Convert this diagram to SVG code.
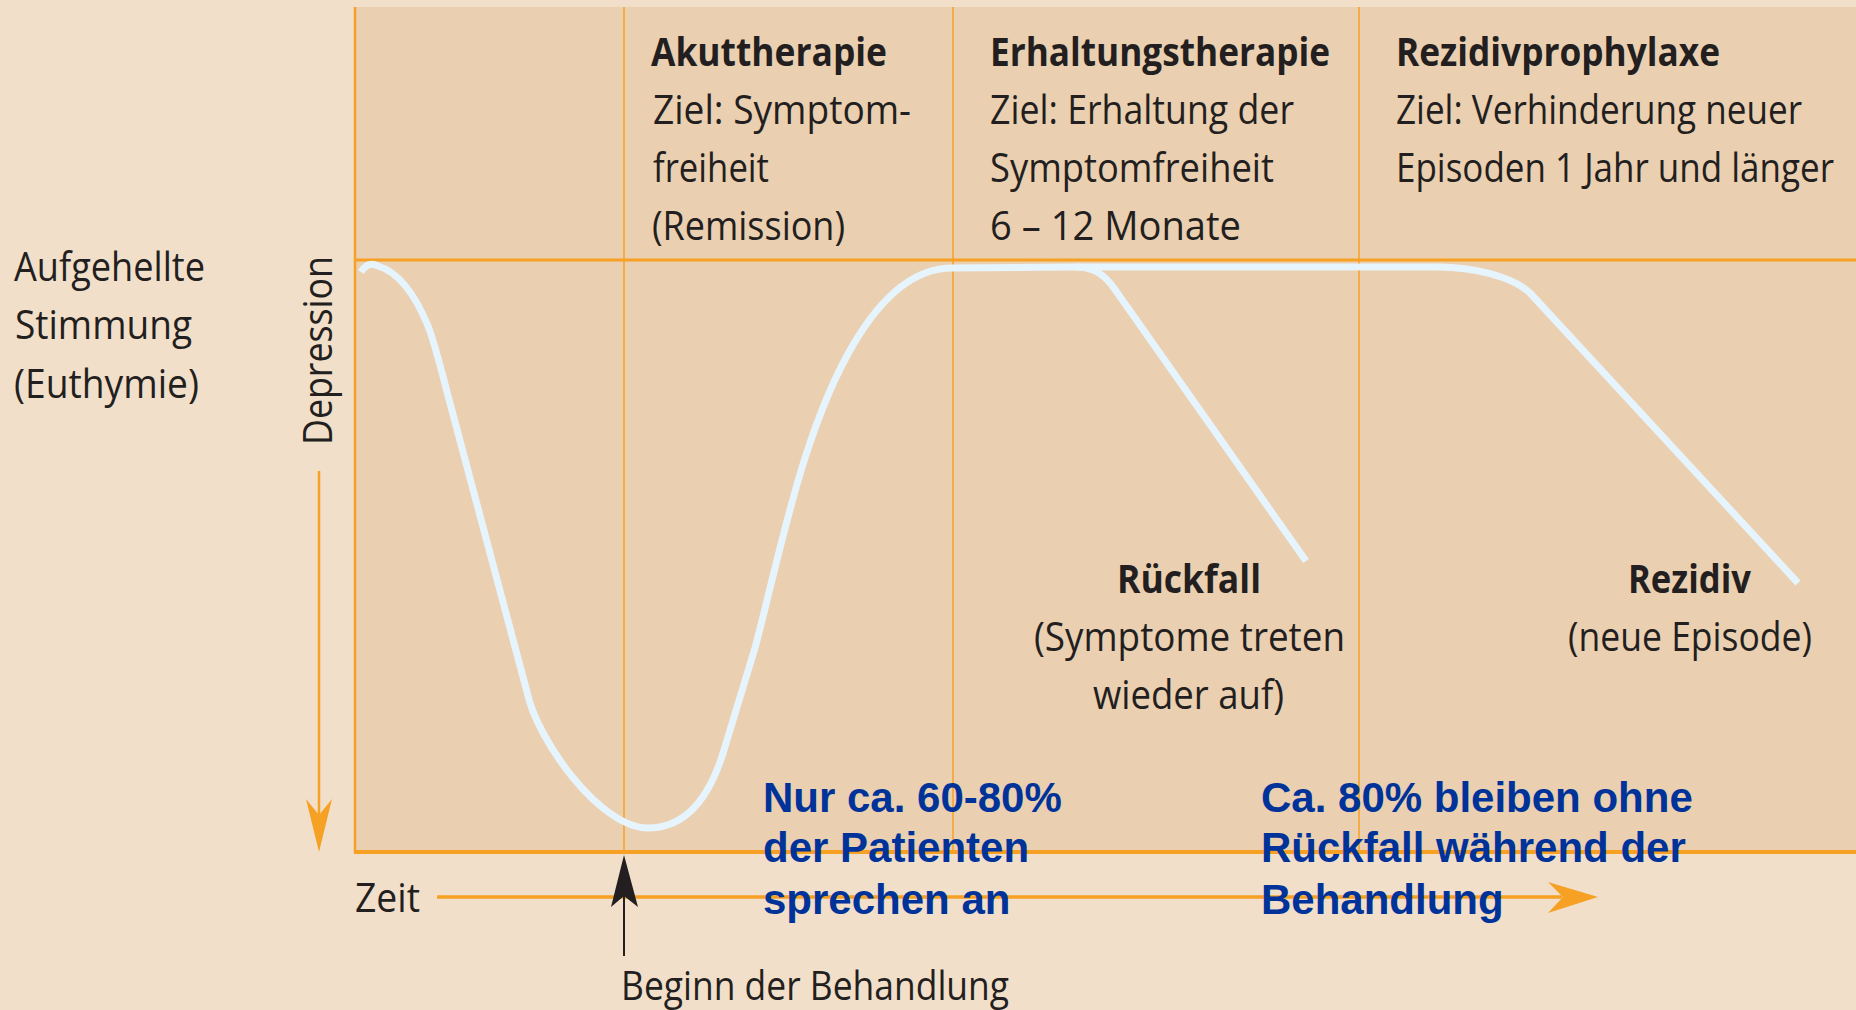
<svg xmlns="http://www.w3.org/2000/svg" width="1856" height="1010" viewBox="0 0 1856 1010">
<defs>
<style>
.t{font-family:"Open Sans","Noto Sans","DejaVu Sans",sans-serif;font-size:40px;fill:#231f20;}
.b{font-weight:700;}
.blue{font-family:"Liberation Sans",Arial,sans-serif;font-weight:700;font-size:42px;fill:#003399;}
.grid{stroke:#f6a024;fill:none;}
.curve{stroke:#e6f4fd;stroke-width:7;fill:none;stroke-linejoin:round;}
</style>
</defs>
<rect x="0" y="0" width="1856" height="1010" fill="#f2dfca"/>
<g id="chart">
<rect x="355" y="7" width="1501" height="845" fill="#eacfb1"/>
<line class="grid" x1="355" y1="7" x2="355" y2="853" stroke-width="2.5"/>
<line class="grid" x1="624" y1="7" x2="624" y2="852" stroke-width="1.5"/>
<line class="grid" x1="953" y1="7" x2="953" y2="852" stroke-width="1.5"/>
<line class="grid" x1="1359" y1="7" x2="1359" y2="852" stroke-width="1.5"/>
<line class="grid" x1="355" y1="260" x2="1856" y2="260" stroke-width="3"/>
<line class="grid" x1="354" y1="852" x2="1856" y2="852" stroke-width="4"/>
</g>
<g id="curve">
<path class="curve" d="M361,272 C366,264 372,263 378,266 C398,272 414,292 428,326 C435,343 445,385 450,403 L527,692 C537,740 600,828 648,828 C690,828 712,790 724,750 L755,648 C768,600 785,520 805,458 C822,405 870,268 952,268 L1076,267 C1095,267 1106,276 1116,291 L1306,561"/>
<path class="curve" d="M1076,267 L1438,267 C1472,267 1512,276 1530,293 L1798,583"/>
</g>
<g id="axes">
<line x1="319" y1="471" x2="319" y2="815" stroke="#f6a024" stroke-width="2.5"/>
<polygon points="319,852 306,799 319,815 332,799" fill="#f6a024"/>
<line x1="437" y1="897" x2="1562" y2="897" stroke="#f6a024" stroke-width="3.5"/>
<polygon points="1598,897 1548,882 1563,897 1548,913" fill="#f6a024"/>
</g>
<g id="connectors">
<line x1="624" y1="956" x2="624" y2="895" stroke="#231f20" stroke-width="2"/>
<polygon points="624,855 638,907 624,896 611,907" fill="#231f20"/>
</g>
<g id="label-euthymie">
<text class="t" x="14" y="281" textLength="191" lengthAdjust="spacingAndGlyphs">Aufgehellte</text>
<text class="t" x="15" y="339" textLength="177" lengthAdjust="spacingAndGlyphs">Stimmung</text>
<text class="t" x="14" y="398" textLength="185" lengthAdjust="spacingAndGlyphs">(Euthymie)</text>
</g>
<g id="label-depression">
<text class="t" transform="translate(332,445) rotate(-90)" x="0" y="0" textLength="189" lengthAdjust="spacingAndGlyphs">Depression</text>
</g>
<g id="label-zeit">
<text class="t" x="355" y="912" textLength="65" lengthAdjust="spacingAndGlyphs">Zeit</text>
</g>
<g id="label-beginn">
<text class="t" x="621" y="1000" textLength="388" lengthAdjust="spacingAndGlyphs">Beginn der Behandlung</text>
</g>
<g id="akuttherapie">
<text class="t b" x="651" y="66" textLength="236" lengthAdjust="spacingAndGlyphs">Akuttherapie</text>
<text class="t" x="653" y="124" textLength="258" lengthAdjust="spacingAndGlyphs">Ziel: Symptom-</text>
<text class="t" x="653" y="182" textLength="116" lengthAdjust="spacingAndGlyphs">freiheit</text>
<text class="t" x="652" y="240" textLength="193" lengthAdjust="spacingAndGlyphs">(Remission)</text>
</g>
<g id="erhaltungstherapie">
<text class="t b" x="990" y="66" textLength="340" lengthAdjust="spacingAndGlyphs">Erhaltungstherapie</text>
<text class="t" x="990" y="124" textLength="304" lengthAdjust="spacingAndGlyphs">Ziel: Erhaltung der</text>
<text class="t" x="990" y="182" textLength="284" lengthAdjust="spacingAndGlyphs">Symptomfreiheit</text>
<text class="t" x="990" y="240" textLength="251" lengthAdjust="spacingAndGlyphs">6 – 12 Monate</text>
</g>
<g id="rezidivprophylaxe">
<text class="t b" x="1396" y="66" textLength="324" lengthAdjust="spacingAndGlyphs">Rezidivprophylaxe</text>
<text class="t" x="1396" y="124" textLength="406" lengthAdjust="spacingAndGlyphs">Ziel: Verhinderung neuer</text>
<text class="t" x="1396" y="182" textLength="438" lengthAdjust="spacingAndGlyphs">Episoden 1 Jahr und länger</text>
</g>
<g id="rueckfall">
<text class="t b" x="1117" y="593" textLength="144" lengthAdjust="spacingAndGlyphs">Rückfall</text>
<text class="t" x="1034" y="651" textLength="311" lengthAdjust="spacingAndGlyphs">(Symptome treten</text>
<text class="t" x="1093" y="709" textLength="191" lengthAdjust="spacingAndGlyphs">wieder auf)</text>
</g>
<g id="rezidiv">
<text class="t b" x="1628" y="593" textLength="123" lengthAdjust="spacingAndGlyphs">Rezidiv</text>
<text class="t" x="1568" y="651" textLength="244" lengthAdjust="spacingAndGlyphs">(neue Episode)</text>
</g>
<g id="note-ansprechen">
<text class="blue" x="763" y="812">Nur ca. 60-80%</text>
<text class="blue" x="763" y="862">der Patienten</text>
<text class="blue" x="763" y="914">sprechen an</text>
</g>
<g id="note-rueckfallfrei">
<text class="blue" x="1261" y="812">Ca. 80% bleiben ohne</text>
<text class="blue" x="1261" y="862">Rückfall während der</text>
<text class="blue" x="1261" y="914">Behandlung</text>
</g>
</svg>
